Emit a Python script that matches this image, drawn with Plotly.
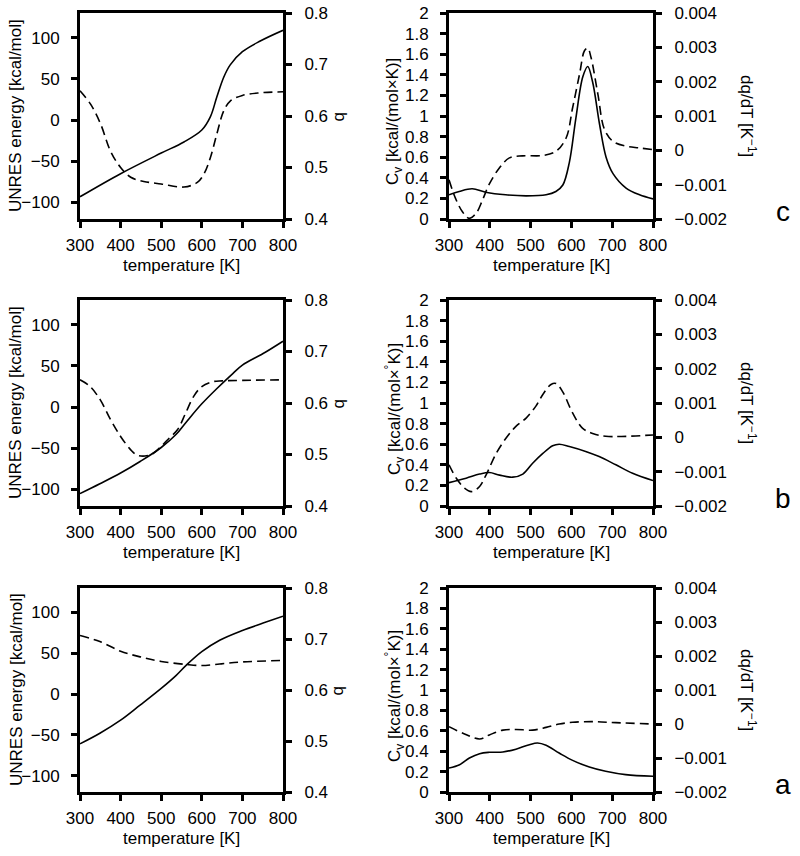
import plotly.graph_objects as go

# values (temperature in K)
# ---- row c (top) ----
c_t_energy = [300, 400, 500, 556, 600, 621, 637, 654, 670, 700, 744, 800]
c_energy = [-93, -65, -40, -26.5, -12, 4, 28, 52, 67, 83, 96, 109]
c_t_b = [300, 326, 351, 375, 400, 425, 457, 500, 556, 589, 605, 621, 637, 654, 670, 700, 744, 800]
c_b = [0.649, 0.623, 0.584, 0.532, 0.500, 0.481, 0.473, 0.468, 0.462, 0.471, 0.487, 0.519, 0.565,
       0.610, 0.629, 0.640, 0.645, 0.647]
c_t_cv = [300, 325, 357, 390, 439, 489, 538, 562, 579, 595, 611, 628, 640, 652, 669, 685, 702, 734, 767, 800]
c_cv = [0.235, 0.267, 0.293, 0.26, 0.235, 0.225, 0.235, 0.267, 0.33, 0.55, 0.98, 1.38, 1.48, 1.33,
        0.92, 0.6, 0.44, 0.30, 0.235, 0.195]
c_t_dq = [300, 316, 333, 349, 366, 382, 398, 423, 448, 480, 530, 562, 587, 603, 620, 632, 640, 648,
          665, 681, 702, 734, 767, 800]
c_dq = [-0.00086, -0.0014, -0.00179, -0.00198, -0.00184, -0.00145, -0.001, -0.00052, -0.00022,
        -0.00016, -0.00015, -0.00003, 0.00036, 0.00124, 0.00222, 0.0029, 0.00298, 0.00271, 0.00163,
        0.00061, 0.00026, 0.00012, 0.00007, 0.00002]

# ---- row b (middle) ----
b_t_energy = [300, 349, 400, 448, 500, 537, 562, 600, 636, 677, 700, 751, 800]
b_energy = [-105, -93, -80, -66, -49, -33, -18, 4, 22, 41, 51, 65, 80]
b_t_b = [300, 325, 350, 375, 400, 425, 440, 460, 480, 500, 520, 540, 560, 580, 600, 625, 650, 700, 800]
b_b = [0.645, 0.632, 0.606, 0.568, 0.535, 0.509, 0.499, 0.497, 0.502, 0.516, 0.532, 0.548, 0.58,
       0.613, 0.632, 0.641, 0.643, 0.644, 0.645]
b_t_cv = [300, 342, 375, 399, 424, 456, 481, 505, 530, 554, 570, 595, 635, 668, 709, 750, 800]
b_cv = [0.227, 0.27, 0.31, 0.325, 0.30, 0.28, 0.31, 0.415, 0.51, 0.585, 0.60, 0.578, 0.53, 0.48,
        0.40, 0.318, 0.247]
b_t_dq = [300, 318, 338, 355, 375, 391, 416, 440, 464, 489, 513, 530, 550, 562, 578, 603, 627, 652, 684, 800]
b_dq = [-0.0008, -0.00119, -0.00148, -0.00158, -0.00143, -0.00109, -0.00046, -0.00002, 0.00032,
        0.00056, 0.00091, 0.00125, 0.00154, 0.00157, 0.00134, 0.00071, 0.00027, 0.00011, 0.00003, 0.00007]

# ---- row a (bottom) ----
a_t_energy = [300, 349, 400, 448, 500, 537, 562, 600, 644, 700, 751, 800]
a_energy = [-61, -48, -32, -13.5, 7, 23, 35.5, 52, 66, 78, 87, 95.5]
a_t_b = [300, 349, 400, 448, 500, 562, 600, 644, 700, 800]
a_b = [0.707, 0.695, 0.676, 0.665, 0.656, 0.650, 0.648, 0.651, 0.655, 0.658]
a_t_cv = [300, 326, 350, 375, 399, 432, 464, 497, 517, 538, 570, 603, 644, 684, 733, 800]
a_cv = [0.235, 0.268, 0.333, 0.376, 0.389, 0.392, 0.42, 0.464, 0.48, 0.458, 0.382, 0.31, 0.245,
        0.203, 0.17, 0.154]
a_t_dq = [300, 334, 375, 399, 432, 464, 505, 538, 570, 603, 652, 709, 800]
a_dq = [-0.00008, -0.00027, -0.00044, -0.00032, -0.00018, -0.00016, -0.00018, -0.0001, 0.0,
        0.00005, 0.00007, 0.00004, 0.0]

# tick labels
t_ticks = [300, 400, 500, 600, 700, 800]
energy_ticks = [-100, -50, 0, 50, 100]
b_ticks = [0.4, 0.5, 0.6, 0.7, 0.8]
cv_ticks = [0, 0.2, 0.4, 0.6, 0.8, 1, 1.2, 1.4, 1.6, 1.8, 2]
cv_labels = ["0", "0.2", "0.4", "0.6", "0.8", "1", "1.2", "1.4", "1.6", "1.8", "2"]
dq_ticks = [-0.002, -0.001, 0, 0.001, 0.002, 0.003, 0.004]
dq_labels = ["\u22120.002", "\u22120.001", "0", "0.001", "0.002", "0.003", "0.004"]
row_letters = ["c", "b", "a"]

W, H = 800, 856
FONT = "Liberation Sans, Arial, Helvetica, sans-serif"
FS = 17

rows = [
    (c_t_energy, c_energy, c_t_b, c_b, c_t_cv, c_cv, c_t_dq, c_dq),
    (b_t_energy, b_energy, b_t_b, b_b, b_t_cv, b_cv, b_t_dq, b_dq),
    (a_t_energy, a_energy, a_t_b, a_b, a_t_cv, a_cv, a_t_dq, a_dq),
]
# row boxes in pixels (top, bottom) and column boxes (left, right)
row_px = [(13, 219), (300, 506), (588, 792)]
col_px = [(80, 283), (449, 653)]


def px(p):
    return p / W


def py(p):
    return 1 - p / H


fig = go.Figure()
layout = dict(width=W, height=H, autosize=False, margin=dict(l=0, r=0, t=0, b=0, pad=0),
              paper_bgcolor="white", plot_bgcolor="white", showlegend=False,
              font=dict(family=FONT, size=FS, color="black"))
annotations = []

solid = dict(color="black", width=1.6)
dashed = dict(color="black", width=1.6, dash="9px,5px")
tickfont = dict(family=FONT, size=FS, color="black")


def xax(dom, anchor):
    return dict(domain=dom, anchor=anchor, range=[300, 800], tickvals=t_ticks,
                ticks="outside", ticklen=6, tickwidth=2.5, tickcolor="black",
                showline=True, linewidth=3, linecolor="black", mirror=True,
                showgrid=False, zeroline=False, automargin=False, tickfont=tickfont,
                ticklabelstandoff=3)


def yax(dom, anchor, rng, vals, labels=None, side="left", overlay=None):
    d = dict(domain=dom, anchor=anchor, range=rng, tickvals=vals,
             ticks="outside", ticklen=6, tickwidth=2.5, tickcolor="black",
             showline=True, linewidth=3, linecolor="black", side=side,
             showgrid=False, zeroline=False, automargin=False, tickfont=tickfont,
             ticklabelstandoff=8 if side == "left" else 9)
    if labels is not None:
        d["ticktext"] = labels
    if overlay:
        d["overlaying"] = overlay
    return d


n = 0
for r, (te, e, tb, bb, tc, cv, tq, dq) in enumerate(rows):
    top, bot = row_px[r]
    ydom = [py(bot), py(top)]
    yc = (top + bot) / 2
    for c in range(2):
        n += 1
        xid = "x" if n == 1 else f"x{n}"
        xkey = "xaxis" if n == 1 else f"xaxis{n}"
        ya = 2 * n - 1
        yb = 2 * n
        yid_a = "y" if ya == 1 else f"y{ya}"
        ykey_a = "yaxis" if ya == 1 else f"yaxis{ya}"
        yid_b = f"y{yb}"
        ykey_b = f"yaxis{yb}"
        xdom = [px(col_px[c][0]), px(col_px[c][1])]
        layout[xkey] = xax(xdom, yid_a)
        if c == 0:
            layout[ykey_a] = yax(ydom, xid, [-120, 130], energy_ticks)
            layout[ykey_b] = yax(ydom, xid, [0.4, 0.8], b_ticks, side="right", overlay=yid_a)
            fig.add_trace(go.Scatter(x=te, y=e, mode="lines", line=solid, line_shape="spline",
                                     xaxis=xid, yaxis=yid_a))
            fig.add_trace(go.Scatter(x=tb, y=bb, mode="lines", line=dashed, line_shape="spline",
                                     xaxis=xid, yaxis=yid_b))
        else:
            layout[ykey_a] = yax(ydom, xid, [0, 2], cv_ticks, cv_labels)
            layout[ykey_b] = yax(ydom, xid, [-0.002, 0.004], dq_ticks, dq_labels,
                                 side="right", overlay=yid_a)
            fig.add_trace(go.Scatter(x=tc, y=cv, mode="lines", line=solid, line_shape="spline",
                                     xaxis=xid, yaxis=yid_a))
            fig.add_trace(go.Scatter(x=tq, y=dq, mode="lines", line=dashed, line_shape="spline",
                                     xaxis=xid, yaxis=yid_b))
        # x title
        annotations.append(dict(text="temperature [K]", x=px((col_px[c][0] + col_px[c][1]) / 2),
                                y=py(bot + 46), xref="paper", yref="paper", showarrow=False,
                                xanchor="center", yanchor="middle", font=dict(size=FS)))

    cv_title = "C<sub>v</sub> [kcal/(mol\u00d7K)]" if r == 0 else \
        "C<sub>v</sub> [kcal/(mol\u00d7<sup>\u00b0</sup>K)]"
    titles = [
        ("UNRES energy [kcal/mol]", 16, yc, -90),
        ("b", 340, yc, 90),
        (cv_title, 394, yc + 6, -90),
        ("dq/dT [K<sup>\u22121</sup>]", 748, yc, 90),
    ]
    for txt, xp, yp, ang in titles:
        annotations.append(dict(text=txt, x=px(xp), y=py(yp), xref="paper", yref="paper",
                                showarrow=False, xanchor="center", yanchor="middle",
                                textangle=ang, font=dict(size=FS)))
    annotations.append(dict(text=row_letters[r], x=px(783), y=py(bot - 8), xref="paper",
                            yref="paper", showarrow=False, xanchor="center", yanchor="middle",
                            font=dict(size=28)))

layout["annotations"] = annotations
fig.update_layout(**layout)
# drop the default 8px page margin so the figure fills the window exactly
fig.write_html("out.html", config={"displayModeBar": False},
               post_script="document.body.style.margin='0px';")
